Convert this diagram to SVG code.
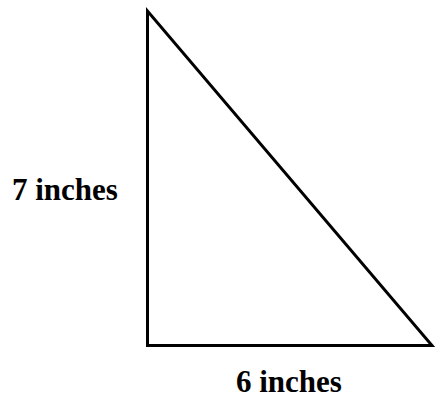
<svg xmlns="http://www.w3.org/2000/svg" width="435" height="401" viewBox="0 0 435 401">
<style>
.lbl{font-family:"Liberation Serif","Times New Roman",serif;font-weight:bold;font-size:31px;fill:#000}
.edge{fill:none;stroke:#000;stroke-width:3;stroke-linejoin:miter}
</style>
<rect width="435" height="401" fill="#fff"/>
<g id="triangle">
<path class="edge" d="M147.5,11 L147.5,345.5 L432,345.5 Z"/>
</g>
<g id="label-height"><text class="lbl" x="12" y="200">7 inches</text></g>
<g id="label-base"><text class="lbl" x="236" y="392">6 inches</text></g>
</svg>
